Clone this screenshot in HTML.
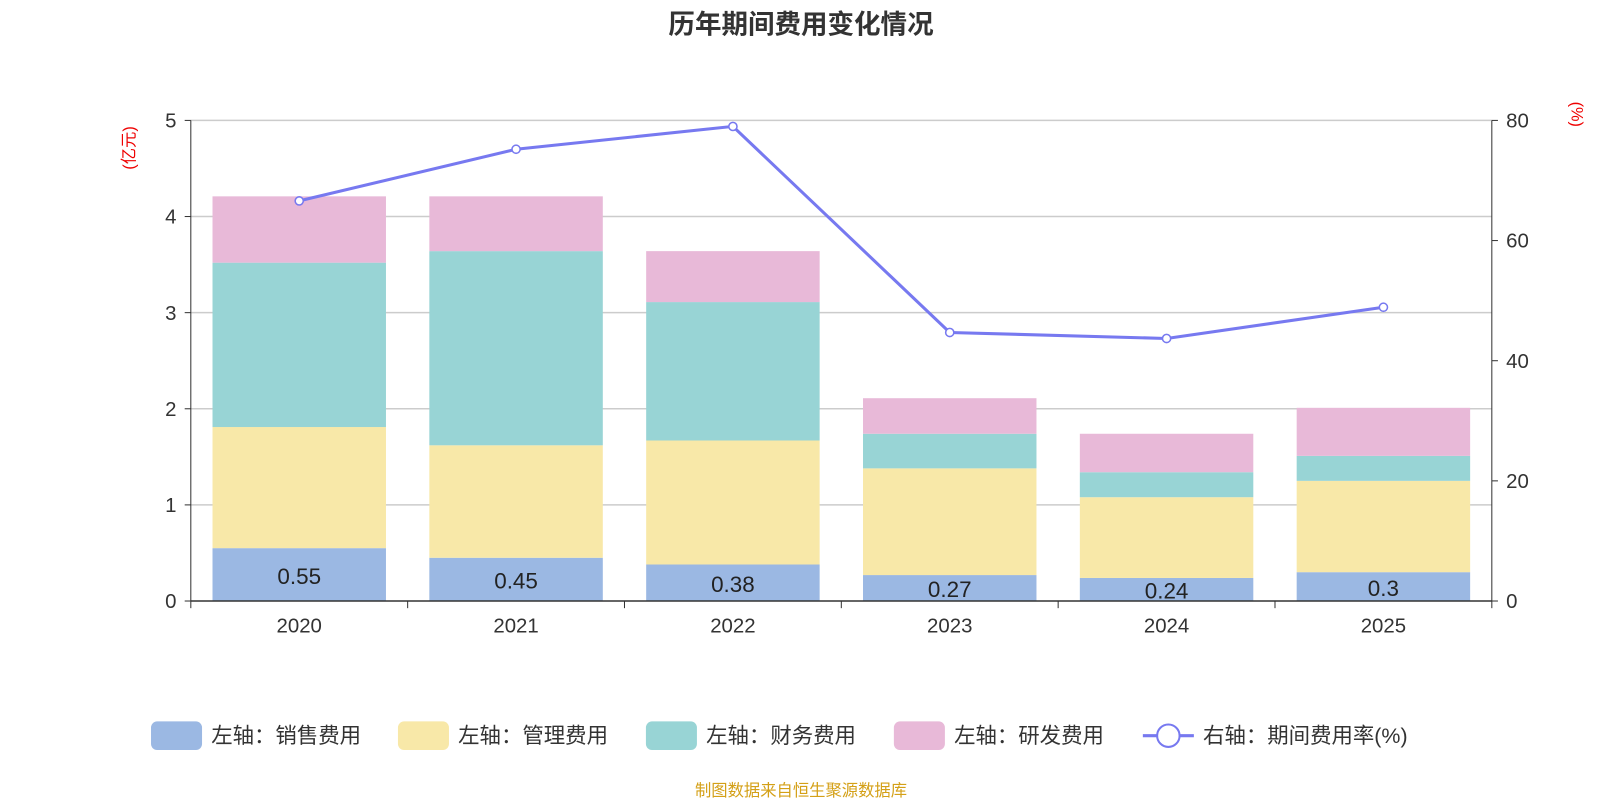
<!DOCTYPE html>
<html><head><meta charset="utf-8"><style>
body{margin:0;background:#fff;font-family:"Liberation Sans","Noto Sans CJK SC",sans-serif}
svg text{font-family:"Liberation Sans","Noto Sans CJK SC",sans-serif}
</style></head><body>
<svg id="chart" width="1600" height="800" xmlns="http://www.w3.org/2000/svg">
<g transform="scale(1.0204)">
<text x="785" y="33" text-anchor="middle" font-size="26" font-weight="bold" fill="#333">历年期间费用变化情况</text>
<text transform="translate(132,145) rotate(-90)" text-anchor="middle" font-size="16" fill="#e00">(亿元)</text>
<text transform="translate(1540,112) rotate(90)" text-anchor="middle" font-size="16" fill="#e00">(%)</text>
<g id="grid"></g><g id="bars"></g><g id="line"></g><g id="axes"></g>
<g font-size="21" fill="#333">
<rect x="148" y="707" width="50" height="28" rx="6" fill="#9bb8e3"/><text x="207" y="728">左轴：销售费用</text>
<rect x="390" y="707" width="50" height="28" rx="6" fill="#f8e8a8"/><text x="449" y="728">左轴：管理费用</text>
<rect x="633" y="707" width="50" height="28" rx="6" fill="#98d4d5"/><text x="692" y="728">左轴：财务费用</text>
<rect x="876" y="707" width="50" height="28" rx="6" fill="#e8b9d8"/><text x="935" y="728">左轴：研发费用</text>
<line x1="1120" y1="721" x2="1170" y2="721" stroke="#7779f0" stroke-width="3"/><circle cx="1145" cy="721" r="11" fill="#fff" stroke="#7779f0" stroke-width="2"/><text x="1179" y="728">右轴：期间费用率(%)</text>
</g>
<text x="785" y="780" text-anchor="middle" font-size="16" fill="#d4a017">制图数据来自恒生聚源数据库</text>
</g>
</svg>
<script>
const categories=["2020","2021","2022","2023","2024","2025"];
const sales=[0.55,0.45,0.38,0.27,0.24,0.3];
const mgmt=[1.26,1.17,1.29,1.11,0.84,0.95];
const finance=[1.71,2.02,1.44,0.36,0.26,0.26];
const rd=[0.69,0.57,0.53,0.37,0.40,0.50];
const rate=[66.6,75.2,79.0,44.7,43.7,48.9];
const leftTicks=[0,1,2,3,4,5];
const rightTicks=[0,20,40,60,80];
const X0=187,X1=1462,Y0=589,Y1=118;
const bw=(X1-X0)/categories.length;
const yL=v=>Y0-(Y0-Y1)*v/5, yR=v=>Y0-(Y0-Y1)*v/80, xc=i=>X0+bw*(i+0.5);
const NS="http://www.w3.org/2000/svg";
function mk(t,a,p){const e=document.createElementNS(NS,t);for(const k in a)e.setAttribute(k,a[k]);p.appendChild(e);return e;}
const grid=document.getElementById('grid'),bars=document.getElementById('bars'),line=document.getElementById('line'),axes=document.getElementById('axes');
leftTicks.forEach(v=>{const y=yL(v);
 if(v>0){const g=mk('line',{x1:X0,x2:X1,y1:y,y2:y,stroke:'#ccc','stroke-width':1.5},grid);}
 const t=mk('text',{x:X0-14,y:y+7,'text-anchor':'end','font-size':20,fill:'#333'},axes);t.textContent=v;
 
 const k=mk('line',{x1:X0-6,x2:X0,y1:y,y2:y,stroke:'#333'},axes);});
rightTicks.forEach(v=>{const y=yR(v);
 const t=mk('text',{x:X1+14,y:y+7,'font-size':20,fill:'#333'},axes);t.textContent=v;
 
 const k=mk('line',{x1:X1,x2:X1+6,y1:y,y2:y,stroke:'#333'},axes);});
let a=mk('line',{x1:X0,x2:X0,y1:Y1,y2:Y0,stroke:'#333'},axes);
a=mk('line',{x1:X1,x2:X1,y1:Y1,y2:Y0,stroke:'#333'},axes);
a=mk('line',{x1:X0,x2:X1,y1:Y0,y2:Y0,stroke:'#333','stroke-width':1.5},axes);
const series=[[sales,'#9bb8e3','sales'],[mgmt,'#f8e8a8','mgmt'],[finance,'#98d4d5','finance'],[rd,'#e8b9d8','rd']];
categories.forEach((c,i)=>{
 const tk=mk('line',{x1:X0+bw*i,x2:X0+bw*i,y1:Y0,y2:Y0+7,stroke:'#333'},axes);
 const t=mk('text',{x:xc(i),y:Y0+31,'text-anchor':'middle','font-size':20,fill:'#333'},axes);t.textContent=c;
 
 let base=0;
 series.forEach(([arr,col,nm])=>{const top=base+arr[i];
  const r=mk('rect',{x:xc(i)-85,width:170,y:yL(top),height:yL(base)-yL(top),fill:col},bars);
  base=top;});
 const lt=mk('text',{x:xc(i),y:(yL(0)+yL(sales[i]))/2+9,'text-anchor':'middle','font-size':22,fill:'#222'},bars);lt.textContent=sales[i];
 
});
const tk=mk('line',{x1:X1,x2:X1,y1:Y0,y2:Y0+7,stroke:'#333'},axes);
const pl=mk('polyline',{points:rate.map((v,i)=>xc(i)+','+yR(v)).join(' '),fill:'none',stroke:'#7779f0','stroke-width':3},line);

rate.forEach((v,i)=>{const p=mk('circle',{cx:xc(i),cy:yR(v),r:4,fill:'#fff',stroke:'#7779f0','stroke-width':1.5},line);
 });
</script>
</body></html>
